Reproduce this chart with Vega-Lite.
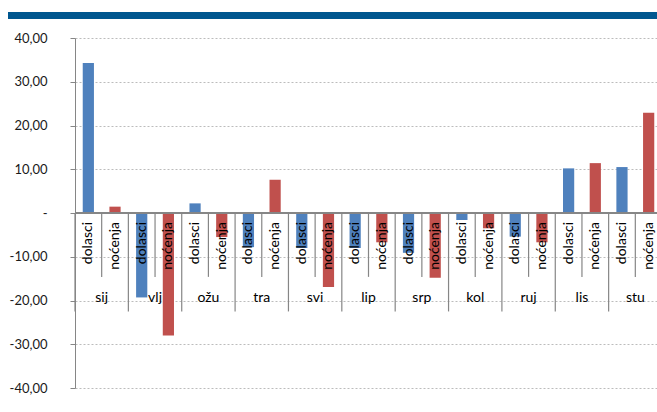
{
  "$schema": "https://vega.github.io/schema/vega-lite/v6.json",
  "padding": {"left": 8, "top": 12, "right": 0, "bottom": 0},
  "spacing": 13,
  "config": {
    "view": {"stroke": null},
    "font": "Lato"
  },
  "datasets": {
    "d": [
      {"month": "sij", "type": "dolasci", "key": "sij dolasci", "value": 34.3},
      {"month": "sij", "type": "noćenja", "key": "sij noćenja", "value": 1.45},
      {"month": "vlj", "type": "dolasci", "key": "vlj dolasci", "value": -19.3},
      {"month": "vlj", "type": "noćenja", "key": "vlj noćenja", "value": -28.0},
      {"month": "ožu", "type": "dolasci", "key": "ožu dolasci", "value": 2.2},
      {"month": "ožu", "type": "noćenja", "key": "ožu noćenja", "value": -5.5},
      {"month": "tra", "type": "dolasci", "key": "tra dolasci", "value": -7.8},
      {"month": "tra", "type": "noćenja", "key": "tra noćenja", "value": 7.6},
      {"month": "svi", "type": "dolasci", "key": "svi dolasci", "value": -8.0},
      {"month": "svi", "type": "noćenja", "key": "svi noćenja", "value": -16.9},
      {"month": "lip", "type": "dolasci", "key": "lip dolasci", "value": -8.0},
      {"month": "lip", "type": "noćenja", "key": "lip noćenja", "value": -6.7},
      {"month": "srp", "type": "dolasci", "key": "srp dolasci", "value": -9.1},
      {"month": "srp", "type": "noćenja", "key": "srp noćenja", "value": -14.8},
      {"month": "kol", "type": "dolasci", "key": "kol dolasci", "value": -1.6},
      {"month": "kol", "type": "noćenja", "key": "kol noćenja", "value": -3.5},
      {"month": "ruj", "type": "dolasci", "key": "ruj dolasci", "value": -5.4},
      {"month": "ruj", "type": "noćenja", "key": "ruj noćenja", "value": -6.7},
      {"month": "lis", "type": "dolasci", "key": "lis dolasci", "value": 10.2},
      {"month": "lis", "type": "noćenja", "key": "lis noćenja", "value": 11.4},
      {"month": "stu", "type": "dolasci", "key": "stu dolasci", "value": 10.5},
      {"month": "stu", "type": "noćenja", "key": "stu noćenja", "value": 22.9}
    ]
  },
  "vconcat": [
    {
      "width": 587,
      "height": 7,
      "data": {"values": [{"band": 1}]},
      "mark": {"type": "rect", "color": "#00578F", "clip": false},
      "encoding": {
        "x": {"datum": -67, "type": "quantitative", "scale": {"domain": [0, 587], "nice": false, "zero": false}, "axis": null},
        "x2": {"datum": 582}
      }
    },
    {
      "width": 587,
      "height": 350,
      "data": {"name": "d"},
      "encoding": {
        "x": {"field": "key", "type": "nominal", "sort": null,
              "scale": {"paddingInner": 0, "paddingOuter": 0}, "axis": null}
      },
      "layer": [
        {
          "mark": {"type": "bar", "width": {"band": 0.42}},
          "encoding": {
            "y": {"field": "value", "type": "quantitative",
                  "scale": {"domain": [-40, 40], "nice": false, "zero": false},
                  "axis": {
                    "values": [-40, -30, -20, -10, 0, 10, 20, 30, 40],
                    "labelExpr": "datum.value == 0 ? '-\u00a0\u00a0' : (datum.value < 0 ? '-' : '') + replace(format(abs(datum.value), '.2f'), '.', ',')",
                    "labelFont": "Lato", "labelFontSize": 13, "labelColor": "#1a1a1a",
                    "labelPadding": 23, "tickSize": 5, "tickColor": "#868686",
                    "domainColor": "#868686",
                    "grid": true, "gridColor": "#bcbcbc", "gridDash": [2, 2],
                    "title": null
                  }},
            "color": {"field": "type", "type": "nominal",
                      "scale": {"domain": ["dolasci", "noćenja"], "range": ["#4F81BD", "#C0504D"]},
                      "legend": null}
          }
        },
        {
          "mark": {"type": "rule", "color": "#868686", "strokeWidth": 1.5},
          "encoding": {"y": {"datum": 0}, "x": null}
        },
        {
          "transform": [{"filter": "datum.type == 'dolasci'"}],
          "mark": {"type": "rule", "color": "#868686", "strokeWidth": 1.2},
          "encoding": {
            "x": {"field": "key", "type": "nominal", "sort": null, "bandPosition": 0},
            "y": {"datum": 0},
            "y2": {"datum": -22.5}
          }
        },
        {
          "transform": [{"filter": "datum.type == 'noćenja'"}],
          "mark": {"type": "rule", "color": "#868686", "strokeWidth": 1.2},
          "encoding": {
            "x": {"field": "key", "type": "nominal", "sort": null, "bandPosition": 0},
            "y": {"datum": 0},
            "y2": {"datum": -14.6}
          }
        },
        {
          "mark": {"type": "text", "angle": 270, "align": "right", "baseline": "middle",
                   "dx": -9, "font": "Lato", "fontSize": 14, "color": "#000000"},
          "encoding": {
            "y": {"datum": 0},
            "text": {"field": "type"}
          }
        },
        {
          "transform": [{"filter": "datum.type == 'noćenja'"}],
          "mark": {"type": "text", "align": "center", "baseline": "middle",
                   "dy": 85, "font": "Lato", "fontSize": 14, "color": "#000000"},
          "encoding": {
            "x": {"field": "key", "type": "nominal", "sort": null, "bandPosition": 0},
            "y": {"datum": 0},
            "text": {"field": "month"}
          }
        }
      ]
    }
  ],
  "resolve": {"scale": {"x": "independent"}}
}
